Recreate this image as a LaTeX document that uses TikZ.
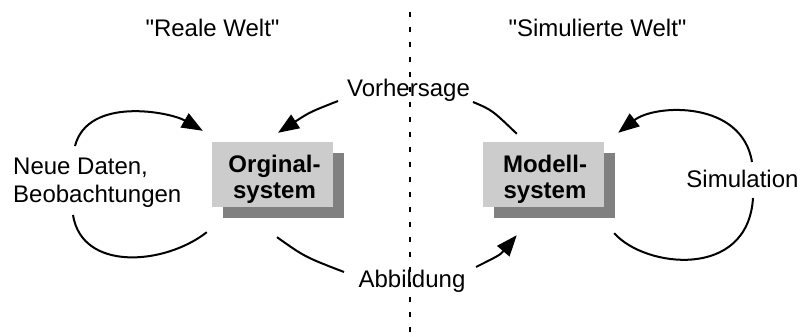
\documentclass[tikz,border=0pt]{standalone}
\usepackage{fontspec}
\setmainfont{Liberation Sans}
\usetikzlibrary{arrows.meta,shadows,calc}
\definecolor{boxgray}{RGB}{204,204,204}
\definecolor{shadowgray}{RGB}{128,128,128}
% straight double quote, set by glyph so no quote mapping applies
\newcommand{\dq}{\XeTeXglyph\XeTeXcharglyph"22\relax}
\begin{document}
\begin{tikzpicture}[x=1pt,y=-1pt,
  every node/.style={inner sep=0pt,font=\fontsize{24}{27.7}\selectfont},
  sysbox/.style={fill=boxgray,minimum width=121pt,minimum height=65pt,
    drop shadow={shadow xshift=11pt,shadow yshift=-11pt,fill=shadowgray,opacity=1}},
  systext/.style={anchor=north,align=center,font=\fontsize{24}{25.7}\selectfont\bfseries},
  lbl/.style={anchor=base},
  flow/.style={line width=2pt},
  arr/.style={flow,-{Triangle[length=21pt,width=16pt]}},
  divider/.style={line width=2.5pt,dash pattern=on 5pt off 10pt}]
\useasboundingbox (0,0) rectangle (801,336);

% separating line between the two worlds
\coordinate (dtop) at (410,12);
\coordinate (dbot) at (410,336);
\draw[divider] (dtop) -- (dbot);

% headings
\node[lbl] (real) at (212.5,37) {\dq Reale Welt\dq};
\node[lbl] (sim) at (597.5,37) {\dq Simulierte Welt\dq};

% the two systems
\node[sysbox] (orig) at (272.5,174.5) {};
\node[systext] (origtxt) at (274.5,155) {Orginal-\\system};
\node[sysbox] (mod) at (543.5,174.5) {};
\node[systext] (modtxt) at (545,155) {Modell-\\system};

% connector labels
\node[anchor=north west,align=left] (daten) at (13,158) {Neue Daten,\\Beobachtungen};
\node[lbl] (vorh) at (408.5,97) {Vorhersage};
\node[lbl] (abb) at (412,288) {Abbildung};
\node[lbl] (simu) at (742.5,188) {Simulation};

% curve ends beside the labels
\coordinate (ndA) at (73,215);
\coordinate (ndB) at (75,146);
\coordinate (vhL) at (338,101);
\coordinate (vhR) at (473,102);
\coordinate (abL) at (344,272);
\coordinate (abR) at (476,267);
\coordinate (smA) at (753,198);
\coordinate (smB) at (752,162);

% loop: new data / observations
\draw[flow] ($(orig.south west)+(-5,25)$) .. controls (165,265) and (82,272) .. (ndA);
\draw[arr] (ndB) .. controls (88,96) and (170,112) .. ($(orig.north west)+(-9,-11)$);

% prediction
\draw[flow] ($(mod.north west)+(34,-8)$) .. controls (492,110) .. (vhR);
\draw[arr] (vhL) .. controls (310,112) .. ($(orig.north)+(5.5,-9)$);

% mapping
\draw[flow] ($(orig.south)+(4.5,30)$) .. controls (305,257) .. (abL);
\draw[arr] (abR) .. controls (500,255) .. ($(mod.south west)+(34,28)$);

% loop: simulation
\draw[flow] ($(mod.south east)+(10,26)$) .. controls (645,268) and (748,280) .. (smA);
\draw[arr] (smB) .. controls (742,100) and (655,104) .. ($(mod.north east)+(14,-9)$);
\end{tikzpicture}
\end{document}
